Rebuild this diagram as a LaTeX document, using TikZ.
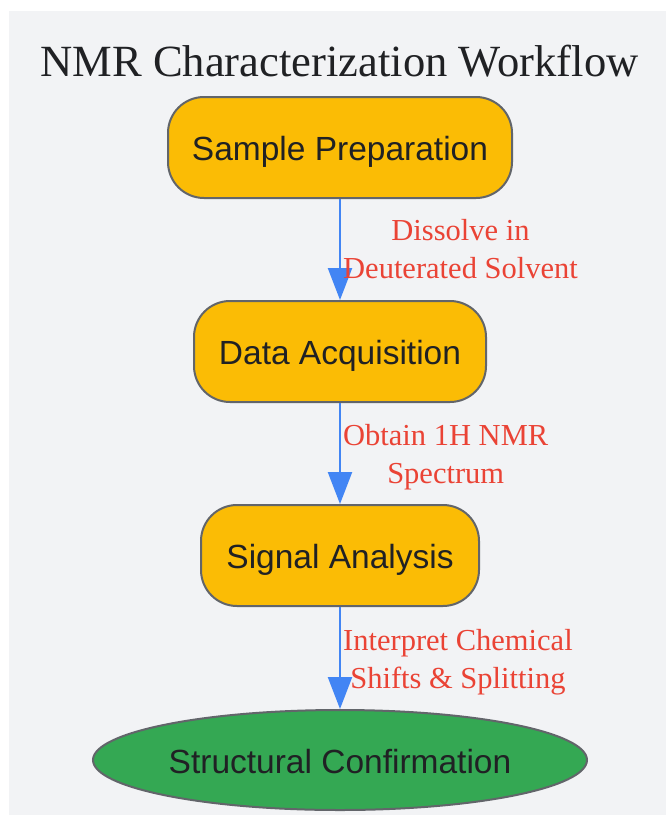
\documentclass[tikz,border=0pt]{standalone}
\usepackage{fontspec}
\setmainfont{Liberation Serif}
\newfontfamily\nodefont{Liberation Sans}
\usetikzlibrary{shapes.geometric,arrows.meta}
\definecolor{bgray}{HTML}{F2F3F5}
\definecolor{boxfill}{HTML}{FBBC05}
\definecolor{boxline}{HTML}{62656A}
\definecolor{greenfill}{HTML}{34A853}
\definecolor{edgeblue}{HTML}{4285F4}
\definecolor{labred}{HTML}{EA4335}
\definecolor{darktext}{HTML}{202124}
\tikzset{
  stepbox/.style={draw=boxline, line width=2pt, fill=boxfill, rounded corners=36pt,
    inner sep=0pt, minimum height=101pt, text=darktext,
    font=\nodefont\fontsize{33.5}{40}\selectfont, text height=26pt, text depth=0pt},
  endbox/.style={ellipse, draw=boxline, line width=2pt, fill=greenfill,
    inner sep=0pt, minimum width=494pt, minimum height=100pt, text=darktext,
    font=\nodefont\fontsize{33.5}{40}\selectfont, text height=26pt, text depth=0pt},
  flow/.style={draw=edgeblue, line width=2.2pt, -{Triangle[length=32pt,width=24pt]}},
  edgelab/.style={text=labred, font=\fontsize{30.5}{38}\selectfont, align=center,
    anchor=west, inner sep=0pt},
  titletext/.style={text=darktext, font=\fontsize{44.6}{53}\selectfont, inner sep=0pt, anchor=base}
}
\begin{document}
\begin{tikzpicture}[x=1pt,y=-1pt]
\useasboundingbox (0,0) rectangle (666,815);
\fill[white] (0,0) rectangle (666,815);
\fill[bgray] (9,11) rectangle (666,815);
\node[titletext] (title) at (339.5,76.5) {NMR Characterization Workflow};
\node[stepbox, minimum width=344pt] (sp) at (340,147.5) {Sample Preparation};
\node[stepbox, minimum width=292pt] (da) at (340,351.5) {Data Acquisition};
\node[stepbox, minimum width=278pt] (sa) at (340,555.5) {Signal Analysis};
\node[endbox] (sc) at (340,760) {Structural Confirmation};
\draw[flow] (sp) -- (da);
\draw[flow] (da) -- (sa);
\draw[flow] (sa) -- (sc);
\coordinate (m1) at (343,249.5);
\coordinate (m2) at (343,457);
\coordinate (m3) at (343,662);
\node[edgelab] (l1) at (m1) {Dissolve in\\Deuterated Solvent};
\node[edgelab] (l2) at (m2) {Obtain 1H NMR\\Spectrum};
\node[edgelab] (l3) at (m3) {Interpret Chemical\\Shifts \& Splitting};
\end{tikzpicture}
\end{document}
